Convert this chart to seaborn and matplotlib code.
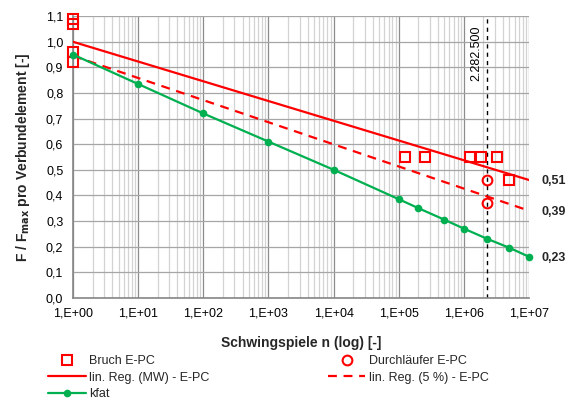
import numpy as np
import pandas as pd
import matplotlib
matplotlib.use("Agg")
import matplotlib.pyplot as plt
import seaborn as sns
from matplotlib.ticker import FixedLocator, LogLocator, FuncFormatter, NullFormatter

# ---------------- data ----------------
bruch_n = [1, 1, 1, 1, 1.24e5, 2.57e5, 1.26e6, 1.81e6, 3.2e6, 5.0e6]
bruch_f = [1.09, 1.07, 0.96, 0.92, 0.55, 0.55, 0.55, 0.55, 0.55, 0.46]
durch_n = [2282500, 2282500]
durch_f = [0.46, 0.37]
reg_mw_n = [1, 1e7]
reg_mw_f = [1.0, 0.46]
reg_5_n = [1, 1e7]
reg_5_f = [0.945, 0.34]
kfat_n = [1, 1e1, 1e2, 1e3, 1e4, 1e5, 2e5, 5e5, 1e6, 2282500, 5e6, 1e7]
kfat_f = [0.95, 0.835, 0.72, 0.61, 0.50, 0.385, 0.35, 0.305, 0.27, 0.23, 0.195, 0.16]
n_limit = 2282500
n_limit_label = "2.282.500"
end_values = [0.51, 0.39, 0.23]
y_ticks = [0.0, 0.1, 0.2, 0.3, 0.4, 0.5, 0.6, 0.7, 0.8, 0.9, 1.0, 1.1]
x_ticks = [1e0, 1e1, 1e2, 1e3, 1e4, 1e5, 1e6, 1e7]

RED = "#FF0000"
GREEN = "#00B050"

sns.set_style("white")
plt.rcParams['font.family'] = ['Liberation Sans', 'DejaVu Sans']

fig = plt.figure(figsize=(5.71, 4.03), dpi=100)
W, H = 571, 403
ax = fig.add_axes([73 / W, 1 - 297.7 / H, (529 - 73) / W, (297.7 - 16.2) / H])
ax.set_xscale('log')

sns.lineplot(x=bruch_n, y=bruch_f, ax=ax, estimator=None, sort=False,
             linestyle='', marker='s', markersize=7.8, markerfacecolor='none',
             markeredgecolor=RED, markeredgewidth=1.5, color=RED,
             label='Bruch E-PC', zorder=4, clip_on=False)
sns.lineplot(x=durch_n, y=durch_f, ax=ax, estimator=None, sort=False,
             linestyle='', marker='o', markersize=7, markerfacecolor='none',
             markeredgecolor=RED, markeredgewidth=1.5, color=RED,
             label='Durchläufer E-PC', zorder=4, clip_on=False)
sns.lineplot(x=reg_mw_n, y=reg_mw_f, ax=ax, estimator=None, color=RED,
             linewidth=1.6, label='lin. Reg. (MW) - E-PC', zorder=3)
sns.lineplot(x=reg_5_n, y=reg_5_f, ax=ax, estimator=None, color=RED,
             linewidth=1.6, dashes=False, label='lin. Reg. (5 %) - E-PC', zorder=3)
ax.lines[-1].set_linestyle((0, (4, 3)))
sns.lineplot(x=kfat_n, y=kfat_f, ax=ax, estimator=None, color=GREEN,
             linewidth=1.6, marker='o', markersize=5.5, markeredgewidth=0,
             label='kfat', zorder=5, clip_on=False)

ax.axvline(n_limit, color='black', linestyle=(0, (3, 3)), linewidth=1.0, zorder=2)
ax.annotate(n_limit_label, xy=(n_limit, 1.065), xytext=(-11, 0),
            textcoords='offset pixels', rotation=90, ha='center', va='top',
            fontsize=9, color='black')

# end labels
for yv, val in zip([reg_mw_f[-1], reg_5_f[-1], kfat_f[-1]], end_values):
    ax.annotate(f"{val:.2f}".replace('.', ','), xy=(1e7, yv), xytext=(12, -1),
                textcoords='offset pixels', ha='left', va='center',
                fontsize=9, fontweight='bold', annotation_clip=False)

ax.set_xlim(1, 1e7)
ax.set_ylim(0, 1.1)
ax.xaxis.set_major_locator(FixedLocator(x_ticks))
ax.xaxis.set_minor_locator(LogLocator(base=10, subs=np.arange(2, 10)))
ax.xaxis.set_minor_formatter(NullFormatter())
ax.xaxis.set_major_formatter(FuncFormatter(lambda v, p: f"1,E+{int(round(np.log10(v))):02d}"))
ax.yaxis.set_major_locator(FixedLocator(y_ticks))
ax.yaxis.set_major_formatter(FuncFormatter(lambda v, p: f"{v:.1f}".replace('.', ',')))

ax.grid(which='major', axis='x', color='#8c8c8c', linewidth=0.9, zorder=0)
ax.grid(which='minor', axis='x', color='#d3d3d3', linewidth=0.9, zorder=0)
ax.grid(which='major', axis='y', color='#a6a6a6', linewidth=0.9, zorder=0)
ax.set_axisbelow(True)

for s in ['top', 'right']:
    ax.spines[s].set_visible(False)
for s in ['left', 'bottom']:
    ax.spines[s].set_color('#868686')
    ax.spines[s].set_linewidth(1.2)

ax.tick_params(axis='both', which='major', direction='out', length=4, width=1,
               color='#868686', labelsize=9, labelcolor='black', pad=3)
ax.tick_params(axis='x', which='minor', length=0)

ax.set_xlabel('Schwingspiele n (log) [-]', fontsize=10, fontweight='bold')
ax.set_ylabel(r'F / F$_{\mathbf{max}}$ pro Verbundelement [-]', fontsize=10, fontweight='bold')
ax.xaxis.set_label_coords(0.5, -0.135)
ax.yaxis.set_label_coords(-0.09, 0.5)

handles, labels = ax.get_legend_handles_labels()
if ax.get_legend():
    ax.get_legend().remove()
hmap = dict(zip(labels, handles))
col1 = ['Bruch E-PC', 'lin. Reg. (MW) - E-PC', 'kfat']
col2 = ['Durchläufer E-PC', 'lin. Reg. (5 %) - E-PC']
common = dict(loc='upper left', frameon=False, fontsize=9, handlelength=3.0,
              handletextpad=0.3, labelspacing=0.36, borderpad=0, borderaxespad=0)
fig.legend([hmap[l] for l in col1], col1, bbox_to_anchor=(48 / W, 1 - 355 / H), **common)
fig.legend([hmap[l] for l in col2], col2, bbox_to_anchor=(328 / W, 1 - 355 / H), **common)

fig.savefig('out.png', dpi=100)
